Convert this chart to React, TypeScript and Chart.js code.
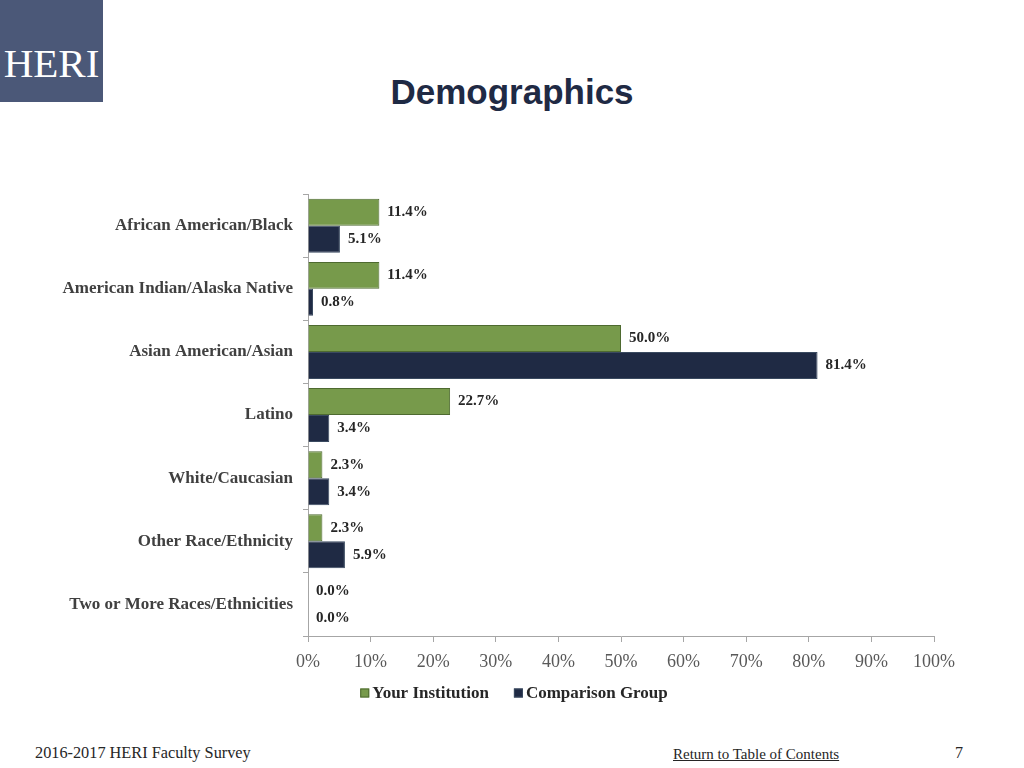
import React, { useEffect, useRef } from "react";
import { Chart, registerables } from "chart.js";

Chart.register(...registerables);

const categories = [
  "African American/Black",
  "American Indian/Alaska Native",
  "Asian American/Asian",
  "Latino",
  "White/Caucasian",
  "Other Race/Ethnicity",
  "Two or More Races/Ethnicities",
];
const yourInstitution = [11.4, 11.4, 50.0, 22.7, 2.3, 2.3, 0.0];
const comparisonGroup = [5.1, 0.8, 81.4, 3.4, 3.4, 5.9, 0.0];
const seriesNames = ["Your Institution", "Comparison Group"];
const xTicks = [0, 10, 20, 30, 40, 50, 60, 70, 80, 90, 100];

const SERIF = "'Liberation Serif', 'Times New Roman', serif";
const GREEN = "#779A4B";
const NAVY = "#1F2A44";

const valueLabels = {
  id: "valueLabels",
  afterDatasetsDraw(chart: any) {
    const ctx = chart.ctx;
    ctx.save();
    ctx.font = `bold 15px ${SERIF}`;
    ctx.fillStyle = "#262626";
    ctx.textAlign = "left";
    ctx.textBaseline = "middle";
    chart.data.datasets.forEach((ds: any, di: number) => {
      const meta = chart.getDatasetMeta(di);
      meta.data.forEach((bar: any, i: number) => {
        const v = ds.data[i];
        ctx.fillText(v.toFixed(1) + "%", bar.x + 8, bar.y);
      });
    });
    ctx.restore();
  },
};

const customLegend = {
  id: "customLegend",
  afterDraw(chart: any) {
    const ctx = chart.ctx;
    ctx.save();
    ctx.font = `bold 17px ${SERIF}`;
    ctx.textBaseline = "middle";
    ctx.textAlign = "left";
    const box = 9;
    const gapText = 3;
    const gapItem = 25;
    const items = chart.data.datasets.map((ds: any) => ({
      text: ds.label,
      fill: ds.backgroundColor,
      stroke: ds.borderColor,
      w: box + gapText + ctx.measureText(ds.label).width,
    }));
    const total =
      items.reduce((s: number, it: any) => s + it.w, 0) + gapItem * (items.length - 1);
    let x = 514 - total / 2;
    const y = chart.chartArea.bottom + 57;
    items.forEach((it: any) => {
      ctx.fillStyle = it.fill;
      ctx.fillRect(x, y - box / 2, box, box);
      ctx.strokeStyle = it.stroke;
      ctx.lineWidth = 1;
      ctx.strokeRect(x + 0.5, y - box / 2 + 0.5, box - 1, box - 1);
      ctx.fillStyle = "#262626";
      ctx.fillText(it.text, x + box + gapText, y + 1);
      x += it.w + gapItem;
    });
    ctx.restore();
  },
};

export default function App() {
  const ref = useRef<HTMLCanvasElement>(null);
  useEffect(() => {
    if (!ref.current) return;
    const chart = new Chart(ref.current, {
      type: "bar",
      data: {
        labels: categories,
        datasets: [
          {
            label: seriesNames[0],
            data: yourInstitution,
            backgroundColor: GREEN,
            borderColor: "#4E6A30",
            borderWidth: 1,
            barPercentage: 1,
            categoryPercentage: 0.855,
          },
          {
            label: seriesNames[1],
            data: comparisonGroup,
            backgroundColor: NAVY,
            borderColor: "#3A4A60",
            borderWidth: 1,
            barPercentage: 1,
            categoryPercentage: 0.855,
          },
        ],
      },
      options: {
        indexAxis: "y",
        animation: false,
        responsive: false,
        maintainAspectRatio: false,
        layout: { padding: { top: 0, right: 90, left: 0, bottom: 40 } },
        plugins: {
          tooltip: { enabled: false },
          legend: { display: false },
        },
        scales: {
          x: {
            type: "linear",
            min: 0,
            max: 100,
            afterBuildTicks: (scale: any) => {
              scale.ticks = xTicks.map((v) => ({ value: v }));
            },
            afterFit: (scale: any) => {
              scale.height = 44;
            },
            ticks: {
              color: "#595959",
              padding: 9,
              font: { family: SERIF, size: 18 },
              callback: (v: any) => v + "%",
              maxRotation: 0,
              autoSkip: false,
            },
            grid: {
              drawOnChartArea: false,
              drawTicks: true,
              tickLength: 6,
              color: "#A6A6A6",
            },
            border: { color: "#A6A6A6" },
          },
          y: {
            afterFit: (scale: any) => {
              scale.width = 308;
            },
            ticks: {
              color: "#404040",
              padding: 10,
              font: { family: SERIF, size: 17, weight: "bold" },
            },
            grid: {
              drawOnChartArea: false,
              drawTicks: true,
              tickLength: 5,
              color: "#A6A6A6",
              offset: true,
            },
            border: { color: "#A6A6A6" },
          },
        },
      },
      plugins: [valueLabels, customLegend],
    } as any);
    return () => chart.destroy();
  }, []);

  return (
    <div
      style={{
        position: "absolute",
        left: 0,
        top: 0,
        width: 1024,
        height: 768,
        background: "#fff",
        overflow: "hidden",
      }}
    >
      <div
        style={{
          position: "absolute",
          left: 0,
          top: 0,
          width: 103,
          height: 102,
          background: "#4B5878",
          color: "#fff",
          fontFamily: SERIF,
          fontSize: 41,
          lineHeight: "102px",
          textAlign: "center",
        }}
      >
        <span style={{ position: "relative", top: 12 }}>HERI</span>
      </div>
      <div
        style={{
          position: "absolute",
          left: 0,
          width: 1024,
          top: 68,
          textAlign: "center",
          fontFamily: "'Liberation Sans', Arial, sans-serif",
          fontWeight: "bold",
          fontSize: 35,
          color: "#1F2A44",
          lineHeight: "48px",
        }}
      >
        Demographics
      </div>
      <canvas
        ref={ref}
        width={1024}
        height={546}
        style={{ position: "absolute", left: 0, top: 174, width: 1024, height: 546 }}
      />
      <div
        style={{
          position: "absolute",
          left: 35,
          top: 743,
          fontFamily: SERIF,
          fontSize: 16.3,
          color: "#262626",
          lineHeight: "20px",
        }}
      >
        2016-2017 HERI Faculty Survey
      </div>
      <div
        style={{
          position: "absolute",
          left: 673,
          top: 744,
          fontFamily: SERIF,
          fontSize: 15,
          color: "#262626",
          textDecoration: "underline",
          lineHeight: "20px",
        }}
      >
        Return to Table of Contents
      </div>
      <div
        style={{
          position: "absolute",
          left: 955,
          top: 743,
          fontFamily: SERIF,
          fontSize: 16,
          color: "#262626",
          lineHeight: "20px",
        }}
      >
        7
      </div>
    </div>
  );
}
